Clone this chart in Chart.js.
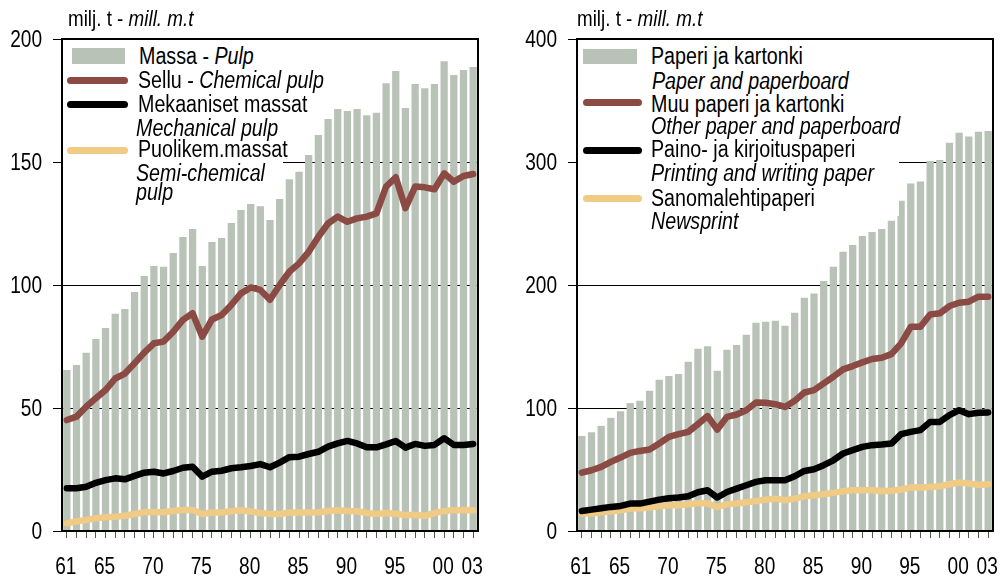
<!DOCTYPE html>
<html lang="fi">
<head>
<meta charset="UTF-8">
<title>Massan ja paperin tuotanto 1961-2003</title>
<style>
    body {
        margin: 0;
        background: #fff;
        color: #000;
        font-family: 'Liberation Sans', Arial, sans-serif;
    }
    #wrap { position: relative; width: 1005px; height: 581px; overflow: hidden; }
    canvas { position: absolute; top: 0; }
    /* the original type is a narrow face, so squeeze the text a little */
    .unit, .row { transform: scaleX(0.855); transform-origin: left top; line-height: 1; white-space: nowrap; position: absolute; }
    .unit { top: 8px; font-size: 22px; }
    .row { font-size: 23px; }
    .box { position: absolute; background: #fff; }
    .sw { position: absolute; }
    .rect { background: #b8c2b6; }
    .ln { height: 7px; border-radius: 4px; }
</style>
</head>
<body>
<div id="wrap">
    <canvas id="pulpChart" width="500" height="581" style="left:0"></canvas>
    <canvas id="paperChart" width="505" height="581" style="left:500px"></canvas>

    <!-- unit labels -->
    <div class="unit" style="left:68px">milj. t - <i>mill. m.t</i></div>
    <div class="unit" style="left:577px">milj. t - <i>mill. m.t</i></div>

    <!-- left legend -->
    <div class="box" style="left:63px; top:41px; width:220px; height:130px"></div>
    <div class="sw rect" style="left:72px; top:48px; width:53px; height:16px"></div>
    <div class="row" style="left:139px; top:45px">Massa - <i>Pulp</i></div>
    <div class="sw ln" style="left:67px; top:77px; width:61px; background:#8b4a43"></div>
    <div class="row" style="left:138px; top:69px">Sellu - <i>Chemical pulp</i></div>
    <div class="sw ln" style="left:67px; top:101px; width:61px; background:#000"></div>
    <div class="row" style="left:138px; top:93px">Mekaaniset massat</div>
    <div class="row" style="left:136px; top:117px"><i>Mechanical pulp</i></div>
    <div class="sw ln" style="left:67px; top:147px; width:61px; background:#efcb86"></div>
    <div class="row" style="left:138px; top:138px">Puolikem.massat</div>
    <div class="row" style="left:136px; top:162px"><i>Semi-chemical</i></div>
    <div class="row" style="left:136px; top:181px"><i>pulp</i></div>

    <!-- right legend -->
    <div class="box" style="left:578px; top:41px; width:321px; height:175px"></div>
    <div class="sw rect" style="left:583px; top:49px; width:54px; height:15px"></div>
    <div class="row" style="left:651px; top:45px">Paperi ja kartonki</div>
    <div class="row" style="left:652px; top:70px"><i>Paper and paperboard</i></div>
    <div class="sw ln" style="left:583px; top:99px; width:59px; background:#8b4a43"></div>
    <div class="row" style="left:651px; top:93px">Muu paperi ja kartonki</div>
    <div class="row" style="left:651px; top:115px"><i>Other paper and paperboard</i></div>
    <div class="sw ln" style="left:583px; top:147px; width:59px; background:#000"></div>
    <div class="row" style="left:651px; top:138px">Paino- ja kirjoituspaperi</div>
    <div class="row" style="left:651px; top:162px"><i>Printing and writing paper</i></div>
    <div class="sw ln" style="left:583px; top:195px; width:59px; background:#efcb86"></div>
    <div class="row" style="left:651px; top:187px">Sanomalehtipaperi</div>
    <div class="row" style="left:651px; top:210px"><i>Newsprint</i></div>
</div>

<script src="https://cdn.jsdelivr.net/npm/chart.js"></script>
<script>
    // years 1961-2003, only some are labelled on the axis
    const years = ['61','62','63','64','65','66','67','68','69','70',
                   '71','72','73','74','75','76','77','78','79','80',
                   '81','82','83','84','85','86','87','88','89','90',
                   '91','92','93','94','95','96','97','98','99','00',
                   '01','02','03'];
    const shownYears = ['61','65','70','75','80','85','90','95','00','03'];

    // left panel: pulp, million metric tons
    const pulpTotal = [65.4,67.5,72.5,78,82.5,88.3,90.2,97.2,103.7,107.7,
                       107.4,113,119.5,122.8,107.7,117.5,119.1,125.2,130.5,132.9,
                       132,126.4,135,143,146,152.8,161,167.5,171.5,170.7,
                       171.5,169,170,182,187,172,181.7,180,181.7,191,
                       185.4,187.4,188.6];
    const chemicalPulp = [45.1,46.5,50.5,54,57.3,62,64,68.2,72.5,76.3,
                          77,81,85.8,88.5,79,86,87.8,91.9,96.6,99,
                          98,94,100,105.4,108.8,113.5,119.6,125,127.8,125.7,
                          127.1,127.8,129.1,140,143.8,131.2,140,139.7,138.9,145.4,
                          142,144.3,145.1];
    const mechanicalPulp = [17.4,17.4,18,19.6,20.7,21.4,21,22.4,23.7,24.1,
                            23.4,24.4,25.7,26.1,22.1,24.1,24.5,25.5,25.9,26.4,
                            27.2,25.9,27.8,30,30.2,31.3,32.2,34.3,35.6,36.6,
                            35.6,34,34,35.2,36.6,33.9,35.4,34.6,35,37.7,
                            35,35,35.4];
    const semiChemical = [3.1,3.9,4.5,5.2,5.6,5.8,6.2,6.9,7.6,7.6,
                          7.6,8.1,8.5,8.5,6.9,7.5,7.5,8,8.4,7.9,
                          7.3,6.9,6.9,7.5,7.5,7.5,7.6,8.1,8.4,8.1,
                          8,7.3,6.9,7.3,6.9,6.5,6.5,6.2,7.3,8.1,
                          8.4,8.5,8.4];

    // right panel: paper and paperboard, million metric tons
    const paperTotal = [77.3,80.3,85.5,92,97.4,104,105.8,114,123,126,
                        127.6,137.6,148.2,150.3,130.3,147.4,151.2,159.6,169.3,170.1,
                        171,166.9,177.5,189.7,193,203.3,214.9,227.1,232.6,239.9,
                        243.1,245.6,252.3,268.4,282.5,284.1,300.9,301.7,315.6,323.7,
                        320.7,324.5,325.3];
    const otherPaper = [47.5,49.4,52.1,56.2,59.7,63.5,65.1,66.3,71.1,76.5,
                        78.7,80.6,86.9,93.4,82.5,92.8,94.7,98.2,104.5,104.2,
                        103.1,100.9,105.8,112.6,114.5,120,125.4,131.4,134.1,137.1,
                        139.8,140.8,143.8,152.5,166,166,176.1,177,182.9,185.6,
                        186.4,190.5,190.5];
    const printingPaper = [16.3,17.4,18.5,19.6,20.4,22.3,22.3,23.9,25.5,26.6,
                           27.2,28.2,31.5,33.1,27.2,31.7,34.5,37.2,39.9,41.3,
                           41.3,41.3,44.5,48.8,50.2,53.5,57.5,63,65.7,68.4,
                           69.8,70.3,71.1,78.7,80.6,82,88.7,88.7,94.2,98.2,
                           95,96.1,96.4];
    const newsprint = [14.2,14.2,15.2,16,16.8,18.2,18.5,19,20.1,20.9,
                       20.9,21.7,22.8,22.3,19.6,21.7,22.3,23.4,24.4,25.5,
                       26.3,25,26.3,28.2,29.1,29.9,31,32.3,33.1,33.1,
                       33.1,32.6,32.6,33.7,35.3,35.3,35.8,36.4,38,39.4,
                       38.6,37.4,38];

    const BAR_COLOR = '#b8c2b6';
    const BROWN = '#8b4a43';
    const YELLOW = '#efcb86';
    const FONT = "'Liberation Sans', Arial, sans-serif";
    const SQUEEZE = 0.83;   // horizontal squeeze for the tick labels

    // frame around the plot area
    const boxPlugin = {
        id: 'box',
        afterDatasetsDraw(chart) {
            const a = chart.chartArea;
            const ctx = chart.ctx;
            ctx.save();
            ctx.strokeStyle = '#000';
            ctx.lineWidth = 2;
            ctx.strokeRect(a.left, a.top, a.right - a.left, a.bottom - a.top);
            ctx.restore();
        }
    };

    // tick labels in a narrower face, placed at the scales' own tick pixels
    const narrowTicks = {
        id: 'narrowTicks',
        afterDraw(chart) {
            const ctx = chart.ctx;
            const xs = chart.scales.x;
            const ys = chart.scales.y;
            ctx.save();
            ctx.font = '23px ' + FONT;
            ctx.fillStyle = '#000';
            ctx.textBaseline = 'alphabetic';

            ctx.textAlign = 'right';
            ys.ticks.forEach(function (t, i) {
                const py = ys.getPixelForTick(i);
                ctx.save();
                ctx.translate(chart.chartArea.left - 20, py + 8.2);
                ctx.scale(SQUEEZE, 1);
                ctx.fillText(String(t.value), 0, 0);
                ctx.restore();
            });

            ctx.textAlign = 'center';
            xs.ticks.forEach(function (t, i) {
                const label = years[i];
                if (!shownYears.includes(label)) return;
                ctx.save();
                ctx.translate(xs.getPixelForTick(i) - 1, chart.chartArea.bottom + 43);
                ctx.scale(SQUEEZE, 1);
                ctx.fillText(label, 0, 0);
                ctx.restore();
            });
            ctx.restore();
        }
    };

    function lineSet(label, data, color) {
        return {
            type: 'line',
            label: label,
            data: data,
            borderColor: color,
            backgroundColor: color,
            borderWidth: 6.5,
            pointRadius: 0,
            tension: 0,
            borderJoinStyle: 'round',
            borderCapStyle: 'round',
            order: 0
        };
    }

    function makePanel(id, barLabel, bars, lines, yMax, yStep, axisWidth, padRight) {
        const ctx = document.getElementById(id).getContext('2d');
        return new Chart(ctx, {
            type: 'bar',
            data: {
                labels: years,
                datasets: lines.concat([{
                    type: 'bar',
                    label: barLabel,
                    data: bars,
                    backgroundColor: BAR_COLOR,
                    barPercentage: 1.0,
                    categoryPercentage: 0.75,
                    order: 1
                }])
            },
            options: {
                responsive: false,
                animation: false,
                devicePixelRatio: 1,
                layout: { padding: { top: 39, right: padRight, left: 0, bottom: 0 } },
                plugins: { legend: { display: false }, tooltip: { enabled: false } },
                scales: {
                    x: {
                        grid: { display: true, drawOnChartArea: false, drawTicks: true, tickLength: 7, color: '#555', offset: false },
                        border: { display: false },
                        ticks: {
                            autoSkip: false,
                            maxRotation: 0,
                            color: 'rgba(0,0,0,0)',
                            font: { family: FONT, size: 23 }
                        },
                        afterFit: function (scale) { scale.height = 50; }
                    },
                    y: {
                        min: 0,
                        max: yMax,
                        grid: { color: '#000', lineWidth: 1, tickLength: 9 },
                        border: { display: false },
                        ticks: {
                            stepSize: yStep,
                            color: 'rgba(0,0,0,0)',
                            font: { family: FONT, size: 23 }
                        },
                        afterFit: function (scale) { scale.width = axisWidth; }
                    }
                }
            },
            plugins: [boxPlugin, narrowTicks]
        });
    }

    makePanel('pulpChart', 'Massa - Pulp', pulpTotal, [
        lineSet('Sellu - Chemical pulp', chemicalPulp, BROWN),
        lineSet('Mekaaniset massat - Mechanical pulp', mechanicalPulp, '#000'),
        lineSet('Puolikem.massat - Semi-chemical pulp', semiChemical, YELLOW)
    ], 200, 50, 62, 22);

    makePanel('paperChart', 'Paperi ja kartonki - Paper and paperboard', paperTotal, [
        lineSet('Muu paperi ja kartonki - Other paper and paperboard', otherPaper, BROWN),
        lineSet('Paino- ja kirjoituspaperi - Printing and writing paper', printingPaper, '#000'),
        lineSet('Sanomalehtipaperi - Newsprint', newsprint, YELLOW)
    ], 400, 100, 77, 12);
</script>
</body>
</html>
